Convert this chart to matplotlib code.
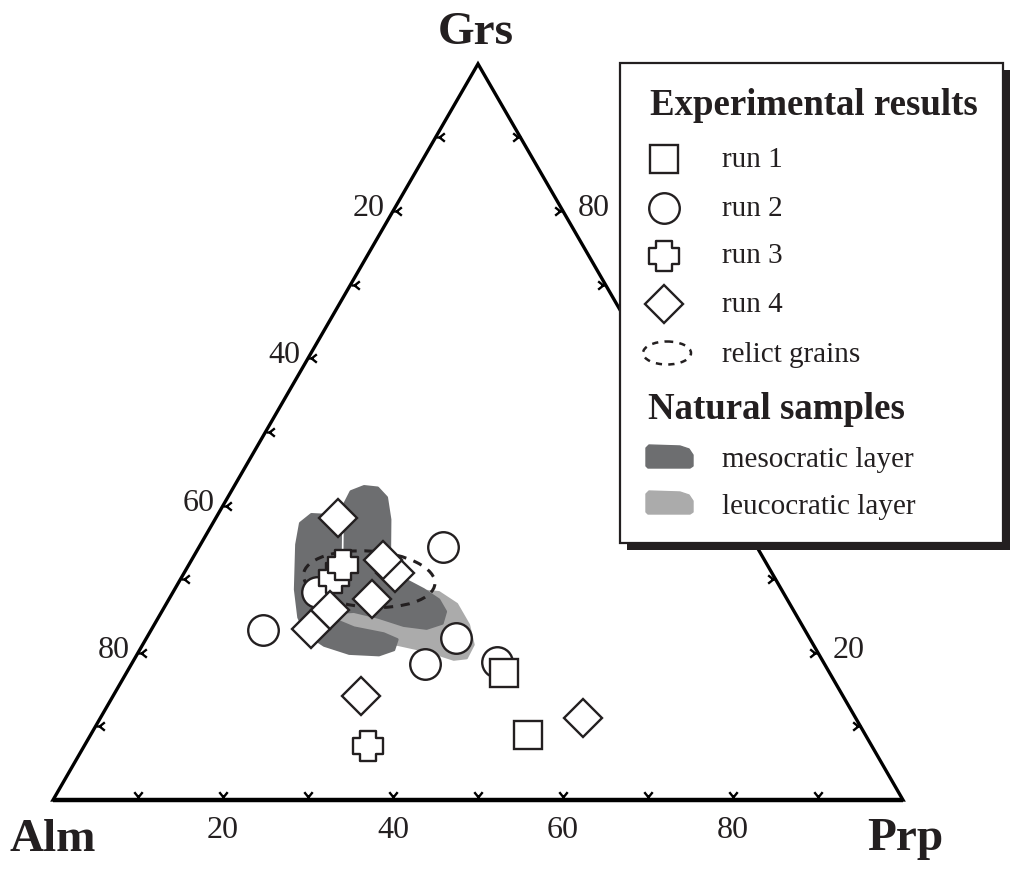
import numpy as np
import matplotlib
matplotlib.use('Agg')
import matplotlib.pyplot as plt
from matplotlib.patches import Polygon, Ellipse, Rectangle
from matplotlib.path import Path

plt.rcParams['font.family'] = ['Liberation Serif', 'DejaVu Serif']

INK = '#231f20'
DARK = '#6d6e70'
LIGHT = '#ababab'

# garnet compositions in mol%, Alm = 100 - Grs - Prp
run1_grs = [17.3, 8.8]
run1_prp = [44.4, 51.5]
run2_grs = [28.3, 23.1, 34.4, 22.0, 18.5, 18.7]
run2_prp = [16.9, 13.2, 28.7, 36.4, 34.5, 42.9]
run3_grs = [30.2, 31.9, 7.3]
run3_prp = [17.9, 18.2, 33.4]
run4_grs = [23.2, 25.8, 38.3, 30.8, 32.6, 27.3, 14.1, 11.1]
run4_prp = [18.7, 19.7, 14.4, 24.8, 22.5, 23.9, 29.2, 56.8]

# natural samples, outline of each field
meso_grs = [34.7, 37.6, 38.8, 38.7, 37.7, 36.2, 40.2, 41.9, 42.6, 42.4, 41.1,
            38.1, 32.0, 30.0, 28.6, 27.2, 25.6, 24.0, 23.3, 23.7, 24.8, 25.6,
            25.3, 23.4, 22.6, 21.8, 20.4, 19.7, 19.9, 21.0, 22.6, 24.8, 28.6]
meso_prp = [11.3, 10.3, 11.0, 12.7, 14.5, 16.0, 14.2, 14.1, 15.3, 17.0, 18.7,
            20.6, 23.6, 26.3, 29.3, 31.8, 33.4, 33.8, 32.3, 29.4, 25.9, 22.6,
            18.8, 23.7, 27.6, 29.6, 29.9, 28.5, 24.9, 21.4, 18.5, 16.5, 14.2]
leuco_grs = [26.8, 27.2, 26.6, 28.6, 28.2, 26.6, 23.8, 21.1, 19.3, 19.1, 20.2,
             21.1, 21.8, 22.5, 23.8]
leuco_prp = [16.4, 20.6, 25.0, 27.6, 31.3, 34.2, 37.0, 38.9, 39.0, 37.6, 34.1,
             30.1, 26.3, 22.4, 19.1]

# relict grains field (centre composition)
relict_grs = 30.0
relict_prp = 22.2

tick_values = [10, 20, 30, 40, 50, 60, 70, 80, 90]
label_values = [20, 40, 60, 80]
right_label_values = [20, 80]  # 40 and 60 sit under the legend

PX = 8.5  # pixels per percent along an edge


def to_xy(grs, prp):
    """ Ternary (Grs, Prp) composition to cartesian, Alm in the origin """
    grs = np.asarray(grs, dtype=float)
    prp = np.asarray(prp, dtype=float)
    return prp + grs / 2, grs * np.sqrt(3) / 2


def tick_path(dx, dy):
    """ Small feathered tick pointing into the triangle along (dx, dy) """
    nx, ny = -dy, dx
    verts = [(0, 0), (3 * dx, 3 * dy),
             (3 * dx, 3 * dy), (8 * dx + 4 * nx, 8 * dy + 4 * ny),
             (3 * dx, 3 * dy), (8 * dx - 4 * nx, 8 * dy - 4 * ny)]
    codes = [Path.MOVETO, Path.LINETO] * 3
    return Path(verts, codes)


def cross_path():
    v = [(-1, -2), (1, -2), (1, -1), (2, -1), (2, 1), (1, 1), (1, 2), (-1, 2),
         (-1, 1), (-2, 1), (-2, -1), (-1, -1), (-1, -2)]
    return Path(v, closed=True)


def draw_frame(ax):
    corners_x, corners_y = to_xy([0, 0, 100, 0], [0, 100, 0, 0])
    ax.add_patch(Polygon(np.column_stack([corners_x[:3], corners_y[:3]]), closed=True,
                         fill=False, ec='black', lw=2.4, joinstyle='miter', zorder=4))
    ax.plot(corners_x[:2], corners_y[:2], color='black', lw=3.2, zorder=4,
            solid_capstyle='butt')

    t = np.array(tick_values, dtype=float)
    tk = dict(ls='none', ms=12, mew=1.7, mec='black', mfc='none', zorder=4)
    x, y = to_xy(np.zeros_like(t), t)
    ax.plot(x, y, marker=tick_path(0, 1), **tk)
    x, y = to_xy(100 - t, np.zeros_like(t))
    ax.plot(x, y, marker=tick_path(1, 0), **tk)
    x, y = to_xy(t, 100 - t)
    ax.plot(x, y, marker=tick_path(-1, 0), **tk)

    lab = dict(textcoords='offset pixels', fontsize=23, color=INK, va='baseline', zorder=4)
    for v in label_values:
        ax.annotate(str(v), to_xy(0, v), xytext=(0, -38), ha='center', **lab)
        ax.annotate(str(v), to_xy(100 - v, 0), xytext=(-8, -5), ha='right', **lab)
    for v in right_label_values:
        ax.annotate(str(v), to_xy(v, 100 - v), xytext=(15, -5), ha='left', **lab)

    big = dict(textcoords='offset pixels', fontsize=34, fontweight='bold', color=INK,
               va='baseline', ha='center')
    ax.annotate('Grs', to_xy(100, 0), xytext=(-2, 20), **big)
    ax.annotate('Alm', to_xy(0, 0), xytext=(0, -51), **big)
    ax.annotate('Prp', to_xy(0, 100), xytext=(2, -50), **big)


def draw_data(ax):
    x, y = to_xy(leuco_grs, leuco_prp)
    ax.add_patch(Polygon(np.column_stack([x, y]), closed=True, fc=LIGHT, ec=LIGHT,
                         lw=2, joinstyle='round', zorder=1))
    x, y = to_xy(meso_grs, meso_prp)
    ax.add_patch(Polygon(np.column_stack([x, y]), closed=True, fc=DARK, ec=DARK,
                         lw=2, joinstyle='round', zorder=1.1))
    # thin gap between the two upper lobes of the mesocratic field
    x, y = to_xy([36.2, 31.5], [16.0, 18.3])
    ax.plot(x, y, color='white', lw=1.2, zorder=1.2)

    cx, cy = to_xy(relict_grs, relict_prp)
    ax.add_patch(Ellipse((float(cx), float(cy)), 15.5, 6.6, angle=-4, fill=False,
                         ec=INK, lw=2.2, ls=(0, (3, 2.5)), zorder=2))

    mk = dict(ls='none', mfc='white', mec=INK, mew=1.7)
    x, y = to_xy(run2_grs, run2_prp)
    ax.plot(x, y, marker='o', ms=22, zorder=3, **mk)
    x, y = to_xy(run1_grs, run1_prp)
    ax.plot(x, y, marker='s', ms=19.5, zorder=3.1, **mk)
    x, y = to_xy(run3_grs, run3_prp)
    for xi, yi in zip(x, y):
        ax.plot(xi, yi, marker=cross_path(), ms=22, zorder=3.2, **mk)
    x, y = to_xy(run4_grs, run4_prp)
    for xi, yi in zip(x, y):
        ax.plot(xi, yi, marker='D', ms=19.2, zorder=3.3, **mk)


def draw_legend(fig):
    """ Legend box in pixel coordinates, drawn over the diagram """
    lax = fig.add_axes([0, 0, 1, 1], zorder=5)
    lax.set_xlim(0, 1011)
    lax.set_ylim(877, 0)
    lax.axis('off')
    lax.add_patch(Rectangle((627, 70), 383, 480, fc=INK, ec='none'))
    lax.add_patch(Rectangle((620, 63), 383, 480, fc='white', ec=INK, lw=1.6))

    head = dict(fontsize=26.5, fontweight='bold', color=INK, va='baseline', ha='left')
    lax.text(650, 115, 'Experimental results', **head)
    lax.text(648, 419, 'Natural samples', **head)

    mk = dict(ls='none', mfc='white', mec=INK, mew=1.7)
    lax.plot(664, 159, marker='s', ms=19.5, **mk)
    lax.plot(664, 208, marker='o', ms=22, **mk)
    lax.plot(664, 256, marker=cross_path(), ms=22, **mk)
    lax.plot(664, 304, marker='D', ms=19.2, **mk)
    lax.add_patch(Ellipse((667, 353), 48, 23, fill=False, ec=INK, lw=1.8,
                          ls=(0, (2.5, 2.5))))

    for top, col in [(445, DARK), (491, LIGHT)]:
        shape = [(646, top + 3), (649, top), (680, top + 1), (689, top + 4),
                 (693, top + 10), (693, top + 21), (690, top + 23),
                 (648, top + 23), (646, top + 21)]
        lax.add_patch(Polygon(shape, closed=True, fc=col, ec=col, lw=1,
                              joinstyle='round'))

    items = [(167, 'run 1'), (216, 'run 2'), (263, 'run 3'), (312, 'run 4'),
             (362, 'relict grains'), (467, 'mesocratic layer'), (514, 'leucocratic layer')]
    for yb, txt in items:
        lax.text(722, yb, txt, fontsize=21, color=INK, va='baseline', ha='left')


fig = plt.figure(figsize=(10.11, 8.77), dpi=100)
ax = fig.add_axes([0, 0, 1, 1])
ax.set_xlim(-53 / PX, 958 / PX)
ax.set_ylim(-77 / PX, 800 / PX)
ax.axis('off')

draw_data(ax)
draw_frame(ax)
draw_legend(fig)

fig.savefig('out.png', dpi=100)
